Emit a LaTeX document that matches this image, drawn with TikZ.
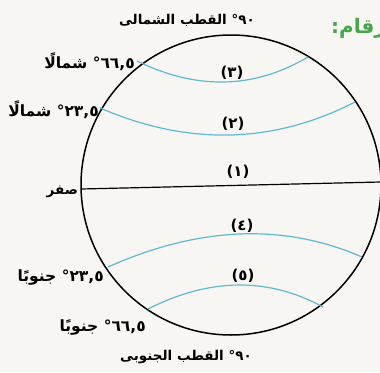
\documentclass[tikz,border=0pt]{standalone}
\usepackage{fontspec}
\newfontfamily\ar[Script=Arabic]{DejaVu Sans}
\TeXXeTstate=1
\definecolor{paper}{RGB}{247,246,242}
\definecolor{lat}{RGB}{95,185,210}
\definecolor{ttl}{RGB}{70,165,75}
\newcommand{\degnum}[1]{\mbox{#1}\mbox{°}}
\tikzset{
  rim/.style={line width=1.5pt, black},
  eqline/.style={line width=1.2pt, black},
  latline/.style={line width=1.2pt, lat},
  lbl/.style={font=\ar\bfseries\fontsize{15.5}{17}\selectfont, inner sep=0pt},
  zero/.style={font=\ar\bfseries\fontsize{13.5}{15}\selectfont, inner sep=0pt},
  pole/.style={font=\ar\bfseries\fontsize{13.5}{15}\selectfont, inner sep=0pt},
  num/.style={font=\ar\bfseries\fontsize{15}{17}\selectfont, inner sep=0pt},
}
\begin{document}
\begin{tikzpicture}[x=1pt,y=-1pt]
\fill[paper] (0,0) rectangle (380,372);
\useasboundingbox (0,0) rectangle (380,372);
% globe
\coordinate (c) at (231,185);
\draw[rim] (c) circle[radius=150];
% equator
\coordinate (e1) at (81,189);
\coordinate (e2) at (381,182);
\draw[eqline] (e1) -- (e2);
% latitude arcs
\coordinate (a3l) at (137,61);  \coordinate (a3r) at (308,57);
\coordinate (a2l) at (100,108); \coordinate (a2r) at (355,102);
\coordinate (a4l) at (108,267); \coordinate (a4r) at (362,257);
\coordinate (a5l) at (148,309); \coordinate (a5r) at (323,307);
\draw[latline] (a3l) .. controls (197,90.3) and (254,89) .. (a3r);
\draw[latline] (a2l) .. controls (188.3,146) and (273.3,144) .. (a2r);
\draw[latline] (a4l) .. controls (199.3,226.3) and (284,223) .. (a4r);
\draw[latline] (a5l) .. controls (209.7,277.7) and (268,277) .. (a5r);
% numbers
\node[num] (n3) at (232,73) {(٣)};
\node[num] (n2) at (233,124) {(٢)};
\node[num] (n1) at (238,172) {(١)};
\node[num] (n4) at (242,226) {(٤)};
\node[num] (n5) at (243,276) {(٥)};
% labels
\node[pole, anchor=east] (np) at (255,20) {\beginR\degnum{٩٠} القطب الشمالى\endR};
\node[pole, anchor=east] (sp) at (252,357) {\beginR\degnum{٩٠} القطب الجنوبى\endR};
\node[lbl, anchor=east] (l66n) at (135,62) {\beginR\degnum{٦٦,٥} شمالًا\endR};
\node[lbl, anchor=east] (l23n) at (99,110) {\beginR\degnum{٢٣,٥} شمالًا\endR};
\node[zero, anchor=east] (l0) at (78,192) {\beginR صفر\endR};
\node[lbl, anchor=east] (l23s) at (104,278) {\beginR\degnum{٢٣,٥} جنوبًا\endR};
\node[lbl, anchor=east] (l66s) at (146,327) {\beginR\degnum{٦٦,٥} جنوبًا\endR};
% title fragment
\node[font=\ar\bfseries\fontsize{20}{24}\selectfont, text=ttl, anchor=west, inner sep=0pt] (ttl) at (331,26) {\beginR أرقام:\endR};
\end{tikzpicture}
\end{document}
